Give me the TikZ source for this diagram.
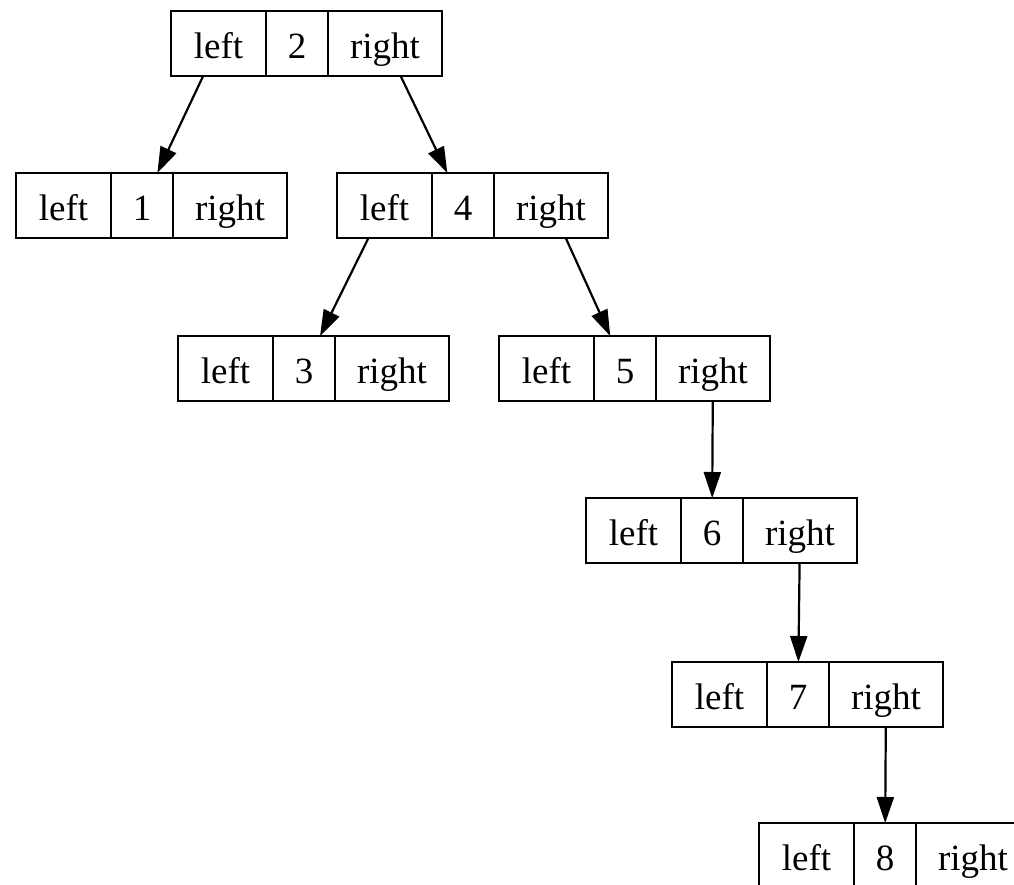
\documentclass[tikz,border=0pt]{standalone}
\usepackage{fontspec}
\setmainfont{Liberation Serif}
\usetikzlibrary{positioning,arrows.meta}

\tikzset{
  cell/.style={draw,line width=1pt,outer sep=0pt,inner sep=0pt,minimum height=32.5pt,
    text height=16pt,text depth=1.5pt,font=\fontsize{18.5}{22}\selectfont},
  lcell/.style={cell,minimum width=47.5pt},
  kcell/.style={cell,minimum width=31pt},
  rcell/.style={cell,minimum width=57pt},
  edge/.style={line width=1.1pt,-{Triangle[length=13pt,width=8.5pt]}}
}

\begin{document}
\begin{tikzpicture}[x=0.5pt,y=-0.5pt]
  \useasboundingbox (0,0) rectangle (1014,885);
  % one record per key: left | key | right
  \foreach \k/\x/\y in {2/171/11,1/16/173,4/337/173,3/178/336,5/499/336,6/586/498,7/672/662,8/759/823} {
    \node[lcell,anchor=north west] (l\k) at (\x,\y) {left};
    \node[kcell,right=0pt of l\k] (k\k) {\k};
    \node[rcell,right=0pt of k\k] (r\k) {right};
  }
  % child pointers
  \draw[edge] (l2) -- (k1);
  \draw[edge] (r2) -- (k4);
  \draw[edge] (l4) -- (k3);
  \draw[edge] (r4) -- (k5);
  \draw[edge] (r5) -- (k6);
  \draw[edge] (r6) -- (k7);
  \draw[edge] (r7) -- (k8);
\end{tikzpicture}
\end{document}
